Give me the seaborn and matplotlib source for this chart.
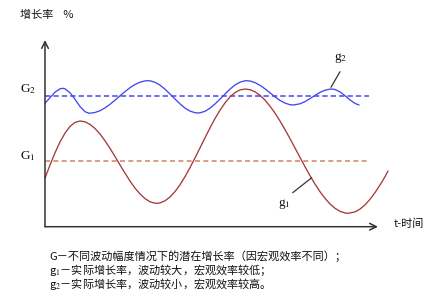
import matplotlib
matplotlib.use("Agg")
import matplotlib.pyplot as plt
import seaborn as sns
import pandas as pd

# ---- data (t in chart units, growth rate in chart units) ----
g1_t = [0, 5, 10, 15, 20, 25, 30, 35, 40, 45, 50, 55, 60, 65, 70, 75, 80, 85, 90, 95, 100,
        105, 110, 112, 115, 120, 125, 130, 135, 140, 145, 150, 155, 160, 165, 170, 175,
        180, 185, 190, 195, 200, 205, 210, 215, 220, 225, 230, 235, 240, 245, 250, 255,
        260, 265, 270, 275, 280, 285, 290, 295, 300, 303, 310, 315, 320, 325, 330, 335,
        340, 343]
g1_val = [48.5, 61.7, 73.9, 84.7, 93.6, 100.2, 104.3, 105.7, 104.9, 102.3, 98.2, 92.7,
          85.9, 78.4, 70.2, 61.8, 53.5, 45.7, 38.6, 32.7, 28.1, 24.9, 23.5, 23.4, 23.8,
          25.9, 29.7, 35.1, 41.9, 50.0, 59.1, 68.8, 78.8, 89.0, 98.8, 108.2, 116.5, 123.8,
          129.8, 134.1, 136.8, 137.7, 137.0, 134.9, 131.4, 126.6, 120.5, 113.6, 105.7,
          97.1, 88.1, 78.7, 69.3, 60.0, 51.0, 42.6, 35.0, 28.4, 22.8, 18.4, 15.4, 13.7,
          13.4, 14.8, 17.6, 21.9, 27.4, 34.1, 41.7, 50.0, 55.7]

g2_t = [0, 5, 10, 15, 17.7, 20, 25, 30, 35, 40, 44.3, 50, 55, 60, 65, 70, 75, 80, 85, 90,
        95, 100, 103, 105, 110, 115, 120, 125, 130, 135, 140, 145, 150, 152.7, 155, 160,
        165, 170, 175, 180, 185, 190, 195, 200, 201.7, 205, 210, 215, 220, 225, 230, 235,
        240, 245, 248.3, 255, 260, 265, 270, 275, 280, 285, 286.7, 290, 295, 300, 305,
        310, 314]
g2_val = [123.4, 129.0, 134.5, 137.9, 138.4, 137.9, 134.0, 127.4, 120.2, 115.0, 113.4,
          114.2, 116.0, 118.8, 122.4, 126.5, 130.9, 135.1, 139.0, 142.2, 144.5, 145.8,
          146.0, 145.9, 144.4, 141.6, 137.5, 132.7, 127.7, 122.8, 118.6, 115.6, 114.0,
          113.7, 113.9, 115.4, 118.5, 122.7, 127.6, 132.7, 137.6, 141.7, 144.5, 145.9,
          146.0, 145.7, 144.1, 141.4, 137.9, 133.9, 129.8, 126.3, 123.6, 122.0, 121.7,
          122.9, 125.1, 128.1, 131.3, 134.3, 136.5, 137.6, 137.7, 137.2, 134.8, 131.0,
          126.8, 123.3, 121.7]

G_t = [0, 324]
G1_val = [65.7, 65.7]
G2_val = [131.2, 131.2]

y_label = "增长率    %"
x_label = "t-时间"
caption = ["G－不同波动幅度情况下的潜在增长率（因宏观效率不同）；",
           "g$_1$－实际增长率，波动较大，宏观效率较低；",
           "g$_2$－实际增长率，波动较小，宏观效率较高。"]

sns.set_theme(style="white")
plt.rcParams['font.family'] = ['Noto Sans CJK SC', 'DejaVu Sans']
plt.rcParams['mathtext.fontset'] = 'stix'

W, H = 424, 300
fig = plt.figure(figsize=(W / 100, H / 100), dpi=100)
fig.patch.set_facecolor("white")
x0, x1 = 45, 378
y0, y1 = 226.7, 40
ax = fig.add_axes([x0 / W, 1 - y0 / H, (x1 - x0) / W, (y0 - y1) / H])
ax.set_xlim(0, x1 - x0)
ax.set_ylim(0, y0 - y1)
ax.set_facecolor("white")
for s in ax.spines.values():
    s.set_visible(False)
ax.set_xticks([])
ax.set_yticks([])

red = "#a53a3c"
blue = "#4646f0"
orange = "#cf8f6e"

df1 = pd.DataFrame({"t": g1_t, "v": g1_val})
df2 = pd.DataFrame({"t": g2_t, "v": g2_val})
dG = pd.DataFrame({"t": G_t, "g1": G1_val, "g2": G2_val})

sns.lineplot(data=dG, x="t", y="g1", ax=ax, color=orange, linewidth=1.2,
             linestyle=(0, (3, 2)), clip_on=False)
sns.lineplot(data=dG, x="t", y="g2", ax=ax, color=blue, linewidth=1.1,
             linestyle=(0, (3.5, 2)), clip_on=False)
sns.lineplot(data=df1, x="t", y="v", ax=ax, color=red, linewidth=0.95,
             sort=False, estimator=None, clip_on=False)
sns.lineplot(data=df2, x="t", y="v", ax=ax, color=blue, linewidth=0.95,
             sort=False, estimator=None, clip_on=False)
ax.set_xlabel("")
ax.set_ylabel("")

axc = "#333333"
ax.annotate("", xy=(x1 - x0, 0), xytext=(0, 0),
            arrowprops=dict(arrowstyle="->", color=axc, lw=1.1, shrinkA=0, shrinkB=0),
            annotation_clip=False)
ax.annotate("", xy=(0, y0 - y1), xytext=(0, 0),
            arrowprops=dict(arrowstyle="->", color=axc, lw=1.1, shrinkA=0, shrinkB=0),
            annotation_clip=False)

def px(x, y):
    return (x / W, 1 - y / H)

serif = ['Liberation Serif', 'DejaVu Serif']
fig.text(*px(20, 15), y_label, fontsize=8, ha="left", va="center", color="#111")
fig.text(*px(394, 224), x_label, fontsize=8, ha="left", va="center", color="#111")
fig.text(*px(20, 89), "G$_2$", fontsize=9.5, ha="left", va="center", color="#111", family=serif)
fig.text(*px(20, 156), "G$_1$", fontsize=9.5, ha="left", va="center", color="#111", family=serif)
fig.text(*px(334, 58), "g$_2$", fontsize=9.5, ha="left", va="center", color="#111", family=serif)
fig.text(*px(278, 204), "g$_1$", fontsize=9.5, ha="left", va="center", color="#111", family=serif)

ax.plot([295, 286], [155, 139.4], color="#333", lw=0.9, clip_on=False)
ax.plot([247.7, 266.7], [34, 49], color="#333", lw=0.9, clip_on=False)

for i, line in enumerate(caption):
    fig.text(*px(49, 256 + 14 * i), line, fontsize=8, ha="left", va="center", color="#111")

fig.savefig("out.png", dpi=100, facecolor="white")
